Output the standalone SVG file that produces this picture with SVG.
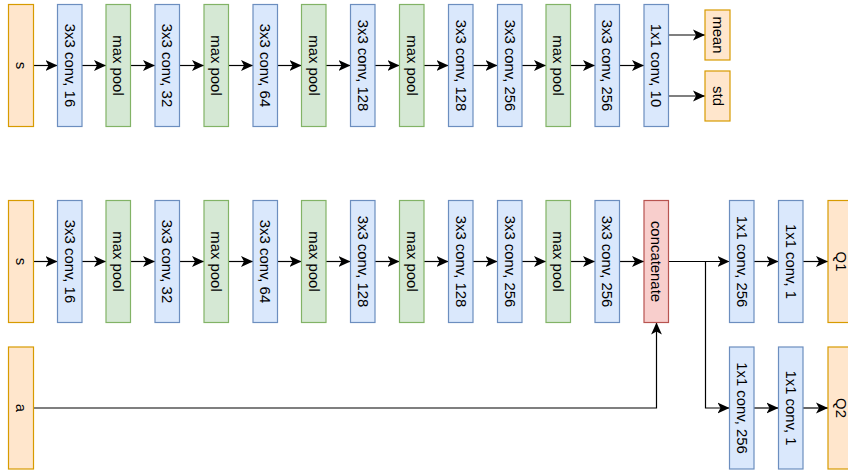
<svg xmlns="http://www.w3.org/2000/svg" width="848" height="471" viewBox="0 0 848 471">
<style>
.o{fill:#ffe6cc;stroke:#d79b00;stroke-width:1.2}
.b{fill:#dae8fc;stroke:#6c8ebf;stroke-width:1.2}
.g{fill:#d5e8d4;stroke:#82b366;stroke-width:1.2}
.r{fill:#f8cecc;stroke:#b85450;stroke-width:1.2}
text{font-family:"Liberation Sans",Arial,sans-serif;font-size:14.9px;fill:#000;text-anchor:middle;dominant-baseline:central}
.e{fill:none;stroke:#000;stroke-width:1.2;marker-end:url(#ah)}
</style>
<defs>
<marker id="ah" markerUnits="userSpaceOnUse" markerWidth="12" markerHeight="12" viewBox="0 0 10 9" refX="10" refY="4.5" orient="auto">
<path d="M0,0 L10,4.5 L0,9 L2.5,4.5 Z" fill="#000"/>
</marker>
</defs>
<g id="connectors">
<path class="e" d="M33.5,65.5H57.5"/>
<path class="e" d="M82,65.5H106"/>
<path class="e" d="M130.5,65.5H155"/>
<path class="e" d="M179.5,65.5H204"/>
<path class="e" d="M228.5,65.5H253"/>
<path class="e" d="M277.5,65.5H301.5"/>
<path class="e" d="M326,65.5H350.5"/>
<path class="e" d="M375,65.5H399.5"/>
<path class="e" d="M424,65.5H448.5"/>
<path class="e" d="M473,65.5H497.5"/>
<path class="e" d="M522,65.5H546"/>
<path class="e" d="M570.5,65.5H595"/>
<path class="e" d="M619.5,65.5H644"/>
<path class="e" d="M668.5,35H705"/>
<path class="e" d="M668.5,96H705"/>
<path class="e" d="M33.5,261.5H57.5"/>
<path class="e" d="M82,261.5H106"/>
<path class="e" d="M130.5,261.5H155"/>
<path class="e" d="M179.5,261.5H204"/>
<path class="e" d="M228.5,261.5H253"/>
<path class="e" d="M277.5,261.5H301.5"/>
<path class="e" d="M326,261.5H350.5"/>
<path class="e" d="M375,261.5H399.5"/>
<path class="e" d="M424,261.5H448.5"/>
<path class="e" d="M473,261.5H497.5"/>
<path class="e" d="M522,261.5H546"/>
<path class="e" d="M570.5,261.5H595"/>
<path class="e" d="M619.5,261.5H644"/>
<path class="e" d="M668.5,261.5H729.5"/>
<path class="e" d="M668.5,261.5H705.5V408H729.5"/>
<path class="e" d="M754,261.5H778.5"/>
<path class="e" d="M803,261.5H828"/>
<path class="e" d="M754,408H778.5"/>
<path class="e" d="M803,408H828"/>
<path class="e" d="M33.5,408H656.5V322.5"/>
</g>
<g id="top-s"><rect class="o" x="8.5" y="4.5" width="25" height="122"/><text x="21" y="65.5" transform="rotate(90 21 65.5)">s</text></g>
<g id="top-c1"><rect class="b" x="57.5" y="4.5" width="24.5" height="122"/><text x="69.75" y="65.5" transform="rotate(90 69.75 65.5)">3x3 conv, 16</text></g>
<g id="top-p1"><rect class="g" x="106" y="4.5" width="24.5" height="122"/><text x="118.25" y="65.5" transform="rotate(90 118.25 65.5)">max pool</text></g>
<g id="top-c2"><rect class="b" x="155" y="4.5" width="24.5" height="122"/><text x="167.25" y="65.5" transform="rotate(90 167.25 65.5)">3x3 conv, 32</text></g>
<g id="top-p2"><rect class="g" x="204" y="4.5" width="24.5" height="122"/><text x="216.25" y="65.5" transform="rotate(90 216.25 65.5)">max pool</text></g>
<g id="top-c3"><rect class="b" x="253" y="4.5" width="24.5" height="122"/><text x="265.25" y="65.5" transform="rotate(90 265.25 65.5)">3x3 conv, 64</text></g>
<g id="top-p3"><rect class="g" x="301.5" y="4.5" width="24.5" height="122"/><text x="313.75" y="65.5" transform="rotate(90 313.75 65.5)">max pool</text></g>
<g id="top-c4"><rect class="b" x="350.5" y="4.5" width="24.5" height="122"/><text x="362.75" y="65.5" transform="rotate(90 362.75 65.5)">3x3 conv, 128</text></g>
<g id="top-p4"><rect class="g" x="399.5" y="4.5" width="24.5" height="122"/><text x="411.75" y="65.5" transform="rotate(90 411.75 65.5)">max pool</text></g>
<g id="top-c5"><rect class="b" x="448.5" y="4.5" width="24.5" height="122"/><text x="460.75" y="65.5" transform="rotate(90 460.75 65.5)">3x3 conv, 128</text></g>
<g id="top-c6"><rect class="b" x="497.5" y="4.5" width="24.5" height="122"/><text x="509.75" y="65.5" transform="rotate(90 509.75 65.5)">3x3 conv, 256</text></g>
<g id="top-p5"><rect class="g" x="546" y="4.5" width="24.5" height="122"/><text x="558.25" y="65.5" transform="rotate(90 558.25 65.5)">max pool</text></g>
<g id="top-c7"><rect class="b" x="595" y="4.5" width="24.5" height="122"/><text x="607.25" y="65.5" transform="rotate(90 607.25 65.5)">3x3 conv, 256</text></g>
<g id="top-c8"><rect class="b" x="644" y="4.5" width="24.5" height="122"/><text x="656.25" y="65.5" transform="rotate(90 656.25 65.5)">1x1 conv, 10</text></g>
<g id="mean"><rect class="o" x="705" y="10" width="25" height="50"/><text x="717.5" y="35" transform="rotate(90 717.5 35)">mean</text></g>
<g id="std"><rect class="o" x="705" y="71" width="25" height="50"/><text x="717.5" y="96" transform="rotate(90 717.5 96)">std</text></g>
<g id="bot-s"><rect class="o" x="8.5" y="200.5" width="25" height="122"/><text x="21" y="261.5" transform="rotate(90 21 261.5)">s</text></g>
<g id="bot-c1"><rect class="b" x="57.5" y="200.5" width="24.5" height="122"/><text x="69.75" y="261.5" transform="rotate(90 69.75 261.5)">3x3 conv, 16</text></g>
<g id="bot-p1"><rect class="g" x="106" y="200.5" width="24.5" height="122"/><text x="118.25" y="261.5" transform="rotate(90 118.25 261.5)">max pool</text></g>
<g id="bot-c2"><rect class="b" x="155" y="200.5" width="24.5" height="122"/><text x="167.25" y="261.5" transform="rotate(90 167.25 261.5)">3x3 conv, 32</text></g>
<g id="bot-p2"><rect class="g" x="204" y="200.5" width="24.5" height="122"/><text x="216.25" y="261.5" transform="rotate(90 216.25 261.5)">max pool</text></g>
<g id="bot-c3"><rect class="b" x="253" y="200.5" width="24.5" height="122"/><text x="265.25" y="261.5" transform="rotate(90 265.25 261.5)">3x3 conv, 64</text></g>
<g id="bot-p3"><rect class="g" x="301.5" y="200.5" width="24.5" height="122"/><text x="313.75" y="261.5" transform="rotate(90 313.75 261.5)">max pool</text></g>
<g id="bot-c4"><rect class="b" x="350.5" y="200.5" width="24.5" height="122"/><text x="362.75" y="261.5" transform="rotate(90 362.75 261.5)">3x3 conv, 128</text></g>
<g id="bot-p4"><rect class="g" x="399.5" y="200.5" width="24.5" height="122"/><text x="411.75" y="261.5" transform="rotate(90 411.75 261.5)">max pool</text></g>
<g id="bot-c5"><rect class="b" x="448.5" y="200.5" width="24.5" height="122"/><text x="460.75" y="261.5" transform="rotate(90 460.75 261.5)">3x3 conv, 128</text></g>
<g id="bot-c6"><rect class="b" x="497.5" y="200.5" width="24.5" height="122"/><text x="509.75" y="261.5" transform="rotate(90 509.75 261.5)">3x3 conv, 256</text></g>
<g id="bot-p5"><rect class="g" x="546" y="200.5" width="24.5" height="122"/><text x="558.25" y="261.5" transform="rotate(90 558.25 261.5)">max pool</text></g>
<g id="bot-c7"><rect class="b" x="595" y="200.5" width="24.5" height="122"/><text x="607.25" y="261.5" transform="rotate(90 607.25 261.5)">3x3 conv, 256</text></g>
<g id="concat"><rect class="r" x="644" y="200.5" width="24.5" height="122"/><text x="656.25" y="261.5" transform="rotate(90 656.25 261.5)">concatenate</text></g>
<g id="q1-c1"><rect class="b" x="729.5" y="200.5" width="24.5" height="122"/><text x="741.75" y="261.5" transform="rotate(90 741.75 261.5)">1x1 conv, 256</text></g>
<g id="q1-c2"><rect class="b" x="778.5" y="200.5" width="24.5" height="122"/><text x="790.75" y="261.5" transform="rotate(90 790.75 261.5)">1x1 conv, 1</text></g>
<g id="q1"><rect class="o" x="828" y="200.5" width="25" height="122"/><text x="840.5" y="261.5" transform="rotate(90 840.5 261.5)">Q1</text></g>
<g id="a"><rect class="o" x="8.5" y="347" width="25" height="122"/><text x="21" y="408" transform="rotate(90 21 408)">a</text></g>
<g id="q2-c1"><rect class="b" x="729.5" y="347" width="24.5" height="122"/><text x="741.75" y="408" transform="rotate(90 741.75 408)">1x1 conv, 256</text></g>
<g id="q2-c2"><rect class="b" x="778.5" y="347" width="24.5" height="122"/><text x="790.75" y="408" transform="rotate(90 790.75 408)">1x1 conv, 1</text></g>
<g id="q2"><rect class="o" x="828" y="347" width="25" height="122"/><text x="840.5" y="408" transform="rotate(90 840.5 408)">Q2</text></g>
</svg>
